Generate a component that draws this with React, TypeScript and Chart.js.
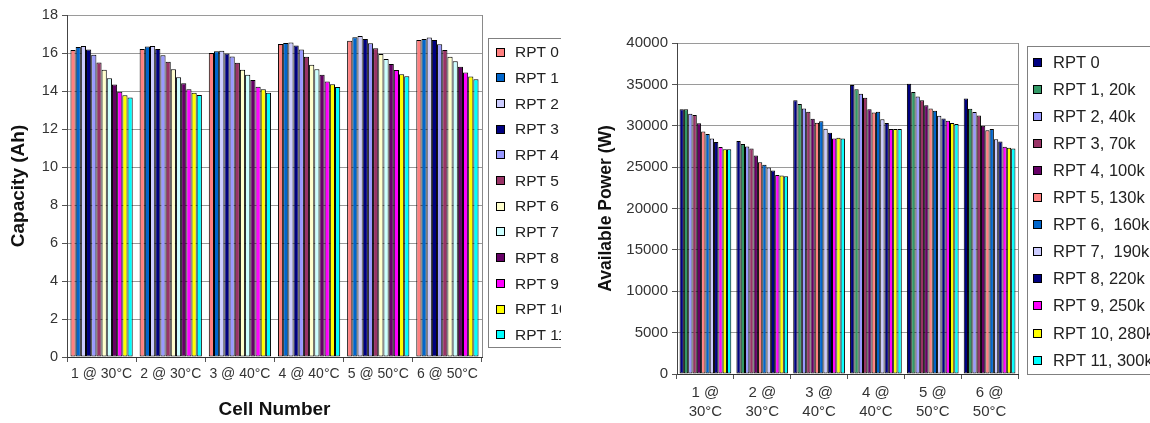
import React, { useEffect, useRef } from "react";
import { Chart, registerables } from "chart.js";

Chart.register(...registerables);
Chart.defaults.font.family = "'Liberation Sans', Arial, Helvetica, sans-serif";

// ---------- categories ----------
const cellLabels = ["1 @ 30°C", "2 @ 30°C", "3 @ 40°C", "4 @ 40°C", "5 @ 50°C", "6 @ 50°C"];
const cellLabelsTwoLine = [
  ["1 @", "30°C"],
  ["2 @", "30°C"],
  ["3 @", "40°C"],
  ["4 @", "40°C"],
  ["5 @", "50°C"],
  ["6 @", "50°C"],
];

// ---------- capacity chart (Ah) ----------
const capacityNames = ["RPT 0", "RPT 1", "RPT 2", "RPT 3", "RPT 4", "RPT 5", "RPT 6", "RPT 7", "RPT 8", "RPT 9", "RPT 10", "RPT 11"];
const capacityColors = ["#FF8080", "#0066CC", "#CCCCFF", "#000080", "#9999FF", "#993366", "#FFFFCC", "#CCFFFF", "#660066", "#FF00FF", "#FFFF00", "#00FFFF"];
const capRpt0 = [16.16, 16.21, 16.0, 16.48, 16.65, 16.69];
const capRpt1 = [16.32, 16.34, 16.09, 16.53, 16.83, 16.74];
const capRpt2 = [16.37, 16.37, 16.12, 16.55, 16.9, 16.81];
const capRpt3 = [16.19, 16.21, 15.98, 16.39, 16.74, 16.69];
const capRpt4 = [15.91, 15.88, 15.82, 16.18, 16.51, 16.46];
const capRpt5 = [15.5, 15.54, 15.49, 15.8, 16.25, 16.16];
const capRpt6 = [15.12, 15.15, 15.12, 15.38, 15.95, 15.8];
const capRpt7 = [14.67, 14.73, 14.85, 15.15, 15.68, 15.56];
const capRpt8 = [14.34, 14.41, 14.58, 14.85, 15.42, 15.27];
const capRpt9 = [13.96, 14.09, 14.23, 14.5, 15.1, 14.97];
const capRpt10 = [13.77, 13.91, 14.09, 14.35, 14.88, 14.76];
const capRpt11 = [13.66, 13.79, 13.91, 14.21, 14.78, 14.62];
const capacitySeries = [capRpt0, capRpt1, capRpt2, capRpt3, capRpt4, capRpt5, capRpt6, capRpt7, capRpt8, capRpt9, capRpt10, capRpt11];

// ---------- power chart (W) ----------
const powerNames = ["RPT 0", "RPT 1, 20k", "RPT 2, 40k", "RPT 3, 70k", "RPT 4, 100k", "RPT 5, 130k", "RPT 6,  160k", "RPT 7,  190k", "RPT 8, 220k", "RPT 9, 250k", "RPT 10, 280k", "RPT 11, 300k"];
const powerColors = ["#000080", "#339966", "#9999FF", "#993366", "#660066", "#FF8080", "#0066CC", "#CCCCFF", "#000080", "#FF00FF", "#FFFF00", "#00FFFF"];
const powRpt0 = [32000, 28150, 33080, 34920, 35080, 33280];
const powRpt1 = [32000, 27800, 32620, 34400, 34080, 32050];
const powRpt2 = [31450, 27500, 32080, 33860, 33520, 31650];
const powRpt3 = [31300, 27250, 31700, 33380, 33080, 31250];
const powRpt4 = [30300, 26390, 30850, 32000, 32480, 30000];
const powRpt5 = [29300, 25580, 30350, 31600, 32080, 29450];
const powRpt6 = [29000, 25300, 30550, 31680, 31800, 29600];
const powRpt7 = [28450, 24940, 29650, 30800, 31200, 28380];
const powRpt8 = [28030, 24580, 29150, 30320, 30880, 28100];
const powRpt9 = [27420, 24060, 28450, 29600, 30600, 27450];
const powRpt10 = [27170, 23980, 28550, 29600, 30320, 27350];
const powRpt11 = [27170, 23900, 28450, 29600, 30200, 27250];
const powerSeries = [powRpt0, powRpt1, powRpt2, powRpt3, powRpt4, powRpt5, powRpt6, powRpt7, powRpt8, powRpt9, powRpt10, powRpt11];

// ---------- plugins ----------
const boxLegend = {
  id: "boxLegend",
  afterDraw(chart: any, _args: any, opts: any) {
    const { ctx } = chart;
    ctx.save();
    ctx.strokeStyle = "#808080";
    ctx.lineWidth = 1;
    ctx.strokeRect(opts.x + 0.5, opts.y + 0.5, opts.w, opts.h);
    ctx.font = `${opts.fontSize}px 'Liberation Sans', Arial, sans-serif`;
    ctx.textBaseline = "middle";
    ctx.textAlign = "left";
    chart.data.datasets.forEach((ds: any, i: number) => {
      const cy = opts.firstY + i * opts.gap;
      const s = opts.swatch;
      const sy = Math.round(cy - s / 2);
      ctx.fillStyle = ds.backgroundColor;
      ctx.fillRect(opts.swatchX, sy, s, s);
      ctx.strokeStyle = "#000";
      ctx.strokeRect(opts.swatchX + 0.5, sy + 0.5, s - 1, s - 1);
      ctx.fillStyle = "#222";
      ctx.fillText(ds.label, opts.textX, cy + 1);
    });
    ctx.restore();
  },
};

const plotFrame = {
  id: "plotFrame",
  afterDraw(chart: any) {
    const { ctx, chartArea } = chart;
    ctx.save();
    ctx.strokeStyle = "#8a8a8a";
    ctx.lineWidth = 1;
    ctx.beginPath();
    const x = Math.round(chartArea.right) + 0.5;
    ctx.moveTo(x, chartArea.top);
    ctx.lineTo(x, chartArea.bottom);
    ctx.stroke();
    ctx.restore();
  },
};

function makeDatasets(names: string[], colors: string[], series: number[][]) {
  return names.map((name, i) => ({
    label: name,
    data: series[i],
    backgroundColor: colors[i],
    borderColor: "#000",
    borderWidth: 1,
    borderSkipped: false,
  }));
}

function CapacityChart() {
  const ref = useRef<HTMLCanvasElement>(null);
  useEffect(() => {
    const chart = new Chart(ref.current!, {
      type: "bar",
      data: { labels: cellLabels, datasets: makeDatasets(capacityNames, capacityColors, capacitySeries) as any },
      options: {
        responsive: false,
        animation: false,
        layout: { padding: { left: 0, top: 15, right: 79, bottom: 0 } },
        datasets: { bar: { barPercentage: 1, categoryPercentage: 0.9 } },
        plugins: {
          legend: { display: false },
          tooltip: { enabled: false },
          boxLegend: { x: 488, y: 38, w: 120, h: 309, firstY: 52, gap: 25.7, swatchX: 496, swatch: 9, textX: 515, fontSize: 15.5 },
        } as any,
        scales: {
          x: {
            offset: true,
            grid: { display: true, drawOnChartArea: false, drawTicks: true, tickLength: 5, offset: true, color: "#555" },
            border: { display: true, color: "#333" },
            ticks: { color: "#333", font: { size: 14 }, padding: 4, maxRotation: 0, autoSkip: false },
            title: { display: true, text: "Cell Number", color: "#111", font: { size: 19, weight: "bold" }, padding: { top: 0, bottom: 2 } },
            afterFit: (s: any) => { s.height = 66; },
          },
          y: {
            min: 0,
            max: 18,
            ticks: { stepSize: 2, color: "#333", font: { size: 14.5 }, padding: 4 },
            grid: { color: "#9a9a9a", tickLength: 5, tickColor: "#555" },
            border: { color: "#444" },
            title: { display: true, text: "Capacity (Ah)", color: "#111", font: { size: 19, weight: "bold" }, padding: { top: 7, bottom: 0 } },
            afterFit: (s: any) => { s.width = 67; },
          },
        } as any,
      },
      plugins: [boxLegend, plotFrame],
    });
    return () => chart.destroy();
  }, []);
  return <canvas ref={ref} width={561} height={423} style={{ position: "absolute", left: 0, top: 0 }} />;
}

function PowerChart() {
  const ref = useRef<HTMLCanvasElement>(null);
  useEffect(() => {
    const chart = new Chart(ref.current!, {
      type: "bar",
      data: { labels: cellLabelsTwoLine as any, datasets: makeDatasets(powerNames, powerColors, powerSeries) as any },
      options: {
        responsive: false,
        animation: false,
        layout: { padding: { left: 0, top: 43, right: 132, bottom: 0 } },
        datasets: { bar: { barPercentage: 1, categoryPercentage: 0.91 } },
        plugins: {
          legend: { display: false },
          tooltip: { enabled: false },
          boxLegend: { x: 442, y: 46, w: 160, h: 328, firstY: 62, gap: 27.1, swatchX: 448, swatch: 9, textX: 468, fontSize: 16.5 },
        } as any,
        scales: {
          x: {
            offset: true,
            grid: { display: true, drawOnChartArea: false, drawTicks: true, tickLength: 5, offset: true, color: "#555" },
            border: { display: true, color: "#333" },
            ticks: { color: "#333", font: { size: 15, lineHeight: 1.3 }, padding: 4, maxRotation: 0, autoSkip: false },
            afterFit: (s: any) => { s.height = 49; },
          },
          y: {
            min: 0,
            max: 40000,
            ticks: { stepSize: 5000, color: "#333", font: { size: 15 }, padding: 4, callback: (v: any) => String(v) },
            grid: { color: "#9a9a9a", tickLength: 5, tickColor: "#555" },
            border: { color: "#444" },
            title: { display: true, text: "Available Power (W)", color: "#111", font: { size: 17.5, weight: "bold" }, padding: { top: 11, bottom: 0 } },
            afterFit: (s: any) => { s.width = 92; },
          },
        } as any,
      },
      plugins: [boxLegend, plotFrame],
    });
    return () => chart.destroy();
  }, []);
  return <canvas ref={ref} width={565} height={423} style={{ position: "absolute", left: 585, top: 0 }} />;
}

export default function App() {
  return (
    <div style={{ position: "fixed", left: 0, top: 0, width: 1150, height: 423, background: "#fff", overflow: "hidden" }}>
      <CapacityChart />
      <PowerChart />
    </div>
  );
}
